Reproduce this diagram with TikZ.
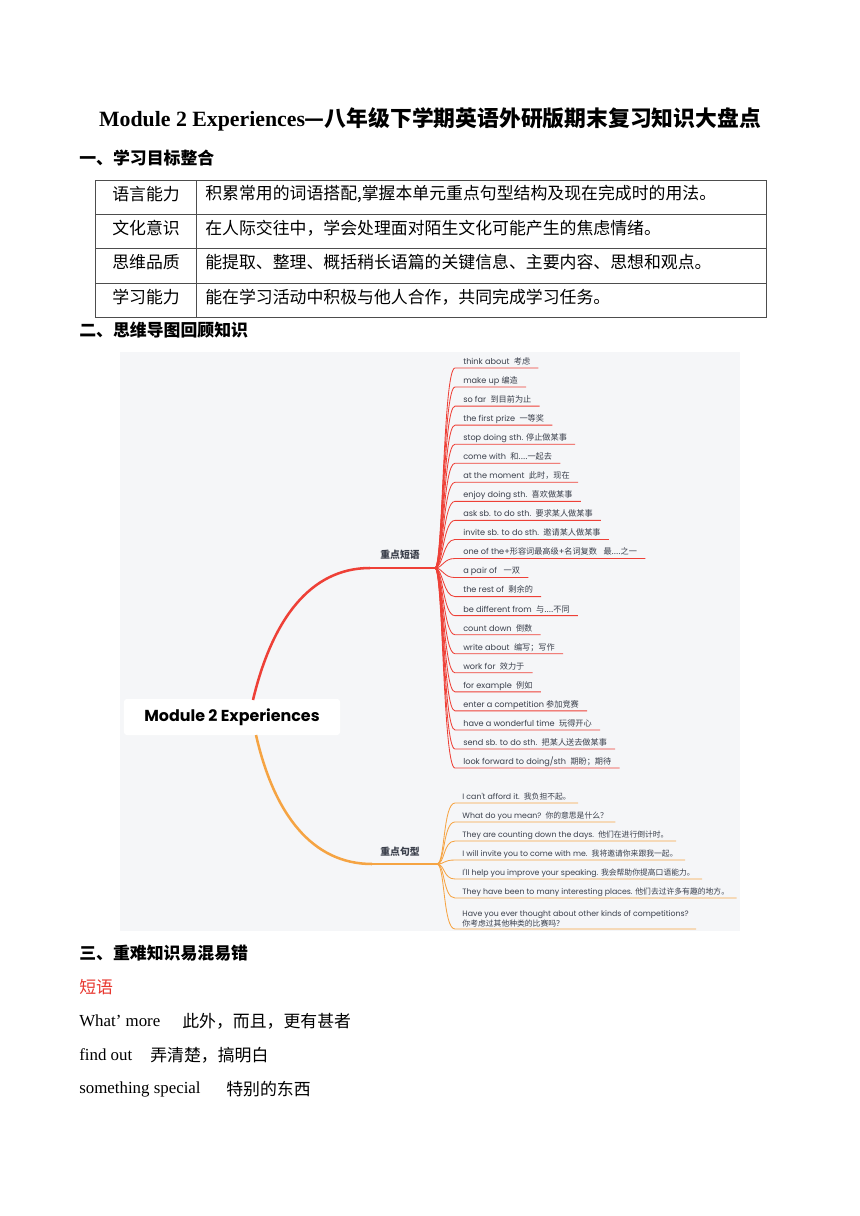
\documentclass[tikz,border=0pt]{standalone}
\usepackage{fontspec}
\setmainfont{Liberation Serif}
\newfontfamily\cjk{Noto Sans CJK SC}
\newfontfamily\mapfont{Poppins}
\usetikzlibrary{positioning}
\newcommand{\zhtext}[1]{{\cjk #1}}
\definecolor{mapbg}{HTML}{F5F6F8}
\definecolor{branchred}{HTML}{EE4037}
\definecolor{branchorange}{HTML}{F5A443}
\definecolor{leafink}{HTML}{3A3F4B}
\definecolor{tableline}{HTML}{4D4D4D}
\definecolor{notered}{HTML}{E8372F}
\tikzset{
  heading/.style={anchor=west, inner sep=0pt, font=\cjk\bfseries\fontsize{12}{14}\selectfont},
  bodytext/.style={anchor=west, inner sep=0pt, font=\fontsize{12}{14}\selectfont},
  cell/.style={inner sep=0pt, font=\cjk\fontsize{12}{14}\selectfont},
  rootbox/.style={fill=white, rounded corners=2pt, minimum width=5.4cm, minimum height=0.9cm, font=\mapfont\bfseries\fontsize{11.3}{13}\selectfont, text=black},
  branchlabel/.style={inner sep=0pt, font=\cjk\bfseries\fontsize{7}{8}\selectfont, text=leafink},
  leaf/.style={anchor=south west, inner xsep=0.2cm, inner ysep=1.2pt, text height=4.3pt, text depth=1.2pt, font=\mapfont\fontsize{5.8}{7}\selectfont, text=leafink},
  sentence/.style={leaf, inner xsep=0.18cm, font=\mapfont\fontsize{5.55}{6.8}\selectfont},
  redline/.style={draw=branchred, line width=0.6pt},
  orangeline/.style={draw=branchorange, line width=0.6pt},
  tablerule/.style={draw=tableline, line width=0.6pt},
}
\begin{document}
\begin{tikzpicture}[x=0.025cm,y=-0.025cm]
        % Fondo de la pagina
        \fill[white] (0,0) rectangle (860,1216);
        \useasboundingbox (0,0) rectangle (860,1216);

        % Titulo
        \node[font=\bfseries\fontsize{15.5}{17}\selectfont, inner sep=0pt] (title) at (430,119)
          {Module 2 Experiences\zhtext{—八年级下学期英语外研版期末复习知识大盘点}};
        \node[heading] (sec1) at (79,158) {一、学习目标整合};

        % Tabla de objetivos
        \draw[tablerule] (95,180) rectangle (766,317);
        \foreach \yy in {214,248,283}
          \draw[tablerule] (95,\yy) -- (766,\yy);
        \draw[tablerule] (196,180) -- (196,317);
        \node[cell] (k1) at (146,194) {语言能力};
        \node[cell] (k2) at (146,228) {文化意识};
        \node[cell] (k3) at (146,262) {思维品质};
        \node[cell] (k4) at (146,297) {学习能力};
        \node[cell, anchor=west] (v1) at (205,194) {积累常用的词语搭配,掌握本单元重点句型结构及现在完成时的用法。};
        \node[cell, anchor=west] (v2) at (205,228) {在人际交往中，学会处理面对陌生文化可能产生的焦虑情绪。};
        \node[cell, anchor=west] (v3) at (205,262) {能提取、整理、概括稍长语篇的关键信息、主要内容、思想和观点。};
        \node[cell, anchor=west] (v4) at (205,297) {能在学习活动中积极与他人合作，共同完成学习任务。};

        \node[heading] (sec2) at (79,330) {二、思维导图回顾知识};

        % Mapa mental: fondo y nodo central
        \fill[mapbg] (120,352) rectangle (740,931);
        \node[rootbox] (root) at (232,717) {Module 2 Experiences};
        \coordinate (redstart) at (253,700);
        \coordinate (redbend) at (370,568);
        \coordinate (phrasehub) at (435,568);
        \coordinate (orangestart) at (256,735);
        \coordinate (orangebend) at (372,864);
        \coordinate (sentencehub) at (437,864);

        % Ramas principales
        \draw[branchred, line width=1.8pt] (redstart) .. controls (272,620) and (310,568) .. (redbend);
        \draw[branchred, line width=0.9pt] (redbend) -- (phrasehub);
        \draw[branchorange, line width=1.8pt] (orangestart) .. controls (274,814) and (312,864) .. (orangebend);
        \draw[branchorange, line width=0.9pt] (orangebend) -- (sentencehub);
        \node[branchlabel] (phraselabel) at (400,555) {重点短语};
        \node[branchlabel] (sentencelabel) at (400,852) {重点句型};

        % Hojas: frases
        \foreach \txt [count=\i] in {
            think about~~\zhtext{考虑},
            make up \zhtext{编造},
            so far~~\zhtext{到目前为止},
            the first prize~~\zhtext{一等奖},
            stop doing sth. \zhtext{停止做某事},
            come with~~\zhtext{和....一起去},
            at the moment~~\zhtext{此时，现在},
            enjoy doing sth.~~\zhtext{喜欢做某事},
            ask sb. to do sth.~~\zhtext{要求某人做某事},
            invite sb. to do sth.~~\zhtext{邀请某人做某事},
            one of the+\zhtext{形容词最高级}+\zhtext{名词复数}~~~\zhtext{最....之一},
            a pair of~~~\zhtext{一双},
            the rest of~~\zhtext{剩余的},
            be different from~~\zhtext{与....不同},
            count down~~\zhtext{倒数},
            write about~~\zhtext{编写；写作},
            work for~~\zhtext{效力于},
            for example~~\zhtext{例如},
            enter a competition \zhtext{参加竞赛},
            have a wonderful time~~\zhtext{玩得开心},
            send sb. to do sth.~~\zhtext{把某人送去做某事},
            look forward to doing\slash sth~~\zhtext{期盼；期待}} {
          \node[leaf] (ph-\i) at (455,{368+19.05*(\i-1)}) {\txt};
          \draw[redline] (phrasehub) .. controls +(8,0) and +(-12,0) .. (ph-\i.south west) -- (ph-\i.south east);
        }

        % Hojas: oraciones
        \foreach \txt [count=\i] in {
            I can't afford it.~~\zhtext{我负担不起。},
            What do you mean?~~\zhtext{你的意思是什么？},
            They are counting down the days.~~\zhtext{他们在进行倒计时。},
            I will invite you to come with me.~~\zhtext{我将邀请你来跟我一起。},
            I'll help you improve your speaking. \zhtext{我会帮助你提高口语能力。},
            They have been to many interesting places. \zhtext{他们去过许多有趣的地方。}} {
          \node[sentence] (st-\i) at (455,{803+19*(\i-1)}) {\txt};
          \draw[orangeline] (sentencehub) .. controls +(8,0) and +(-12,0) .. (st-\i.south west) -- (st-\i.south east);
        }
        \node[sentence, text height=, text depth=, align=left] (st-7) at (455,929)
          {Have you ever thought about other kinds of competitions?\\\zhtext{你考虑过其他种类的比赛吗？}};
        \draw[orangeline] (sentencehub) .. controls +(8,0) and +(-12,0) .. (st-7.south west) -- (st-7.south east);

        % Parte tres
        \node[heading] (sec3) at (79,953) {三、重难知识易混易错};
        \node[cell, anchor=west, text=notered] (duanyu) at (79,987) {短语};
        \node[bodytext] (w1) at (79,1021) {What' more};
        \node[cell, anchor=west] (m1) at (182,1021) {此外，而且，更有甚者};
        \node[bodytext] (w2) at (79,1055) {find out};
        \node[cell, anchor=west] (m2) at (150,1055) {弄清楚，搞明白};
        \node[bodytext] (w3) at (79,1089) {something special};
        \node[cell, anchor=west] (m3) at (226,1089) {特别的东西};
    \end{tikzpicture}
\end{document}
